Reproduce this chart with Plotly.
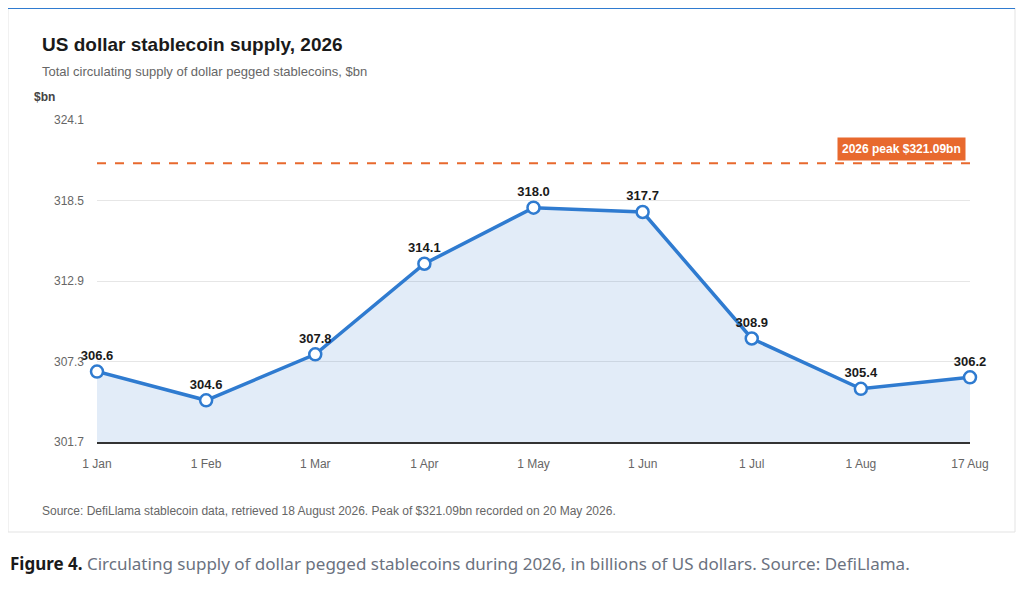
import plotly.graph_objects as go

months = ["1 Jan", "1 Feb", "1 Mar", "1 Apr", "1 May", "1 Jun", "1 Jul", "1 Aug", "17 Aug"]
supply = [306.6, 304.6, 307.8, 314.1, 318.0, 317.7, 308.9, 305.4, 306.2]
peak = 321.09
y_ticks = [301.7, 307.3, 312.9, 318.5, 324.1]

blue = "#2f7bd0"
orange = "#e8692e"

fig = go.Figure()
fig.add_trace(go.Scatter(
    x=list(range(len(months))), y=supply, mode="lines+markers+text",
    line=dict(color=blue, width=3.5), fill="tozeroy", fillcolor="rgba(47,123,208,0.14)",
    marker=dict(size=12, color="white", line=dict(color=blue, width=2.5)),
    text=[f"{v:.1f}" for v in supply], textposition="top center",
    textfont=dict(family="Liberation Sans, Arial", size=13, color="#1a1a1a", weight="bold"),
    cliponaxis=False, hoverinfo="x+y", showlegend=False))

fig.add_hline(y=peak, line=dict(color=orange, width=2, dash="dash"))

def px(x):
    return (x - 97) / 873

def py(y):
    return (442 - y) / 322

fig.add_shape(type="rect", xref="paper", yref="paper", x0=px(8), x1=px(1015), y0=py(532), y1=py(5),
              line=dict(color="#e3e3e3", width=1), fillcolor="white", layer="below")
fig.add_shape(type="rect", xref="paper", yref="paper", x0=px(8), x1=px(1015), y0=py(9), y1=py(5),
              line=dict(width=0), fillcolor=blue, layer="below")

font = "Liberation Sans, Arial"
ann = [
    dict(x=px(40), y=py(44), text="<b>US dollar stablecoin supply, 2026</b>", size=19, color="#1a1a1a"),
    dict(x=px(40), y=py(71), text="Total circulating supply of dollar pegged stablecoins, $bn", size=13, color="#666"),
    dict(x=px(32), y=py(97), text="<b>$bn</b>", size=12, color="#444"),
    dict(x=px(40), y=py(511), text="Source: DefiLlama stablecoin data, retrieved 18 August 2026. Peak of $321.09bn recorded on 20 May 2026.", size=12, color="#666"),
]
for a in ann:
    fig.add_annotation(x=a["x"], y=a["y"], xref="paper", yref="paper", xanchor="left", yanchor="middle",
                       showarrow=False, text=a["text"], font=dict(family=font, size=a["size"], color=a["color"]))

fig.add_annotation(x=px(8), y=py(563), xref="paper", yref="paper", xanchor="left", yanchor="middle",
                   showarrow=False, text="<b>Figure 4.</b> <span style='color:#6b7280'>Circulating supply of dollar pegged stablecoins during 2026, in billions of US dollars. Source: DefiLlama.</span>",
                   font=dict(family="Noto Sans, Open Sans", size=17, color="#1a1a1a"))

fig.add_annotation(x=px(966), y=peak, xref="paper", yref="y", xanchor="right", yanchor="middle",
                   showarrow=False, text="<b>2026 peak $321.09bn</b>", bgcolor=orange,
                   borderpad=4, yshift=14,
                   font=dict(family=font, size=12, color="white"))

fig.update_layout(
    width=1008, height=586, margin=dict(l=89, r=46, t=112, b=152),
    paper_bgcolor="white", plot_bgcolor="white",
    xaxis=dict(range=[0, 8], tickvals=list(range(len(months))), ticktext=months, showgrid=False,
               zeroline=False, showline=True, linecolor="#333", linewidth=1.5, ticks="",
               tickfont=dict(family=font, size=12, color="#666"), ticklabelstandoff=10),
    yaxis=dict(range=[301.7, 324.1], tickvals=y_ticks, ticktext=[f"{v:.1f}" for v in y_ticks],
               gridcolor="#e6e6e6", zeroline=False, tickfont=dict(family=font, size=12, color="#666"),
               ticklabelstandoff=12),
)
fig.write_html("out.html")
